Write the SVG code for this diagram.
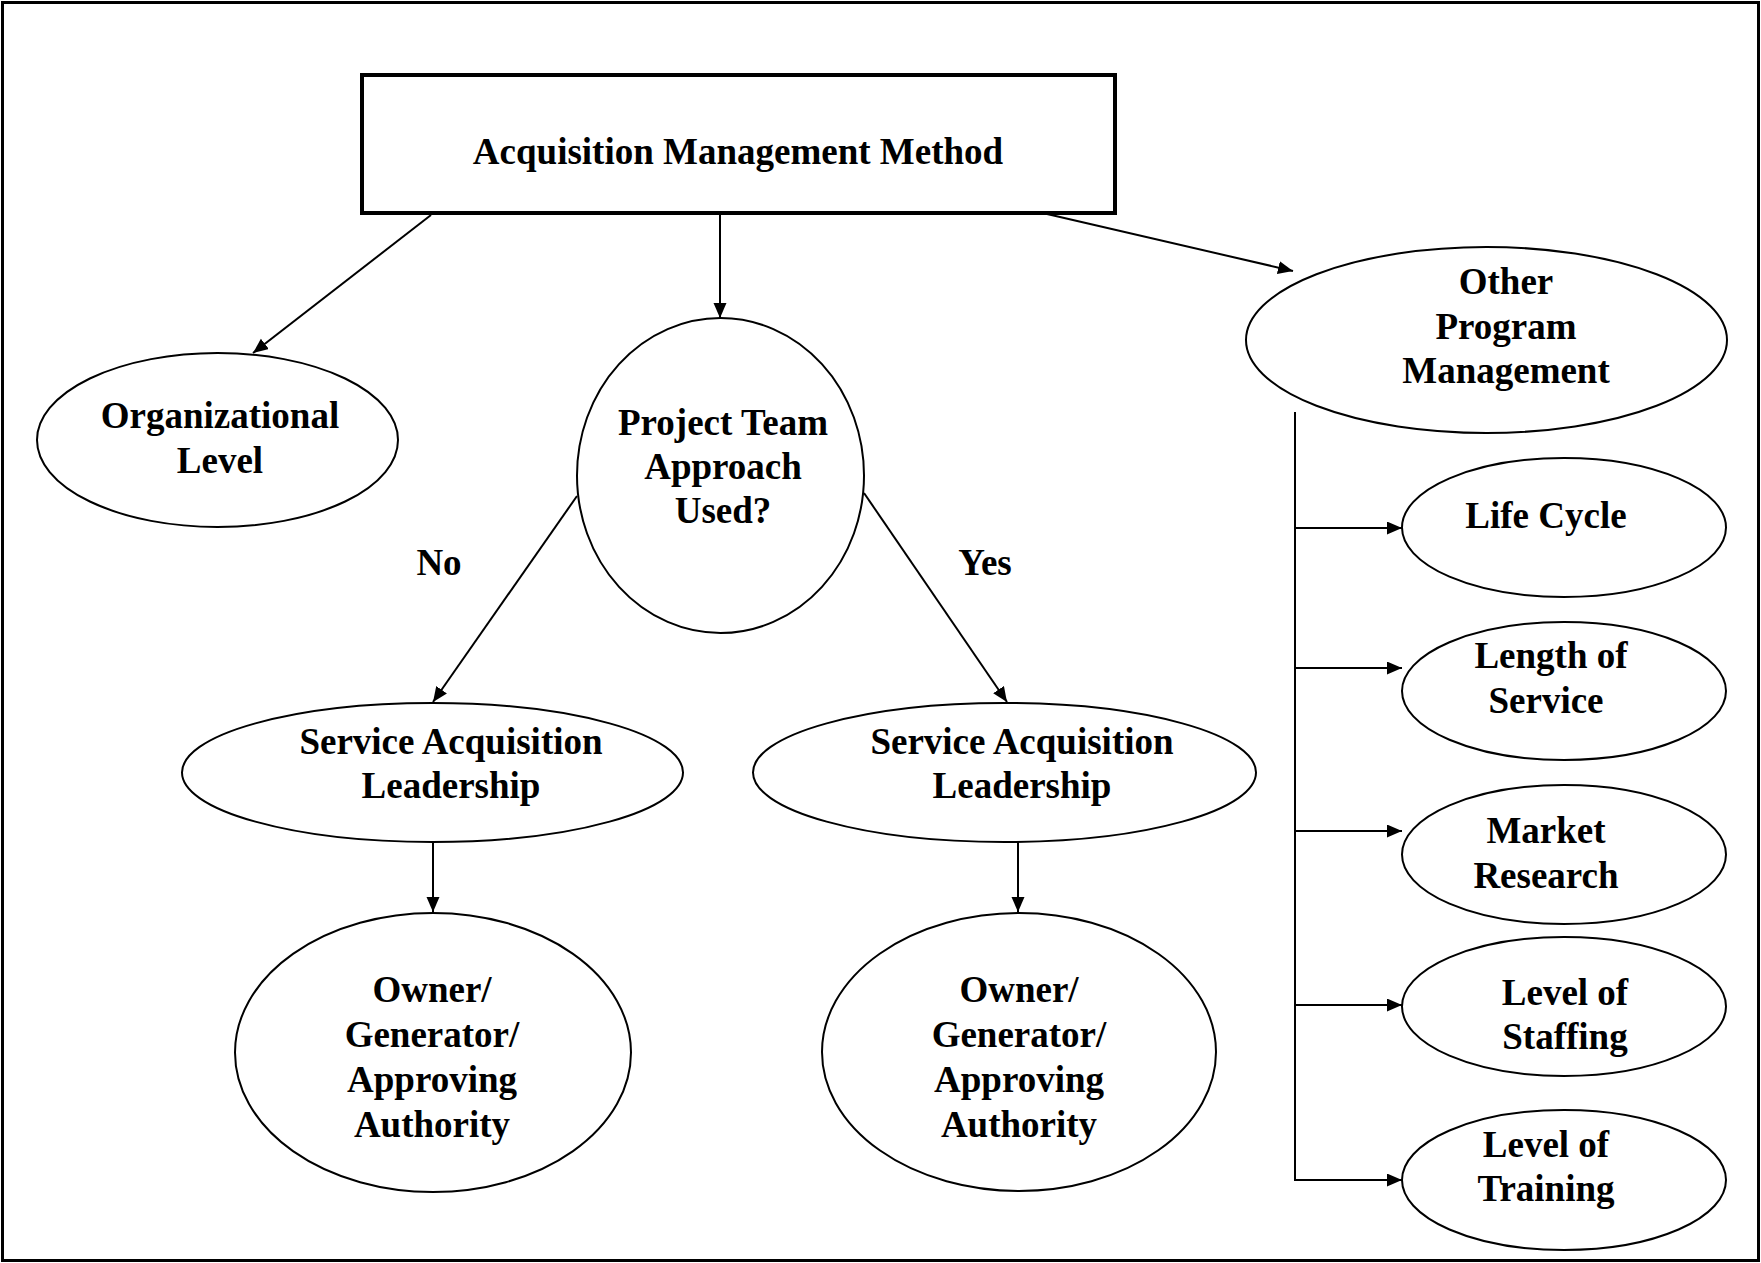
<svg xmlns="http://www.w3.org/2000/svg" width="1761" height="1263" viewBox="0 0 1761 1263">
<style>
.n{fill:#fff;stroke:#000;stroke-width:2}
.t{font-family:"Liberation Serif","Times New Roman",serif;font-weight:bold;font-size:37px;fill:#000;text-anchor:middle}
.c{stroke:#000;stroke-width:2;fill:none}
.a{marker-end:url(#arr)}
</style>
<defs>
<marker id="arr" markerUnits="userSpaceOnUse" markerWidth="16" markerHeight="14" refX="15" refY="6.5" orient="auto">
<path d="M0,0 L15,6.5 L0,13 z" fill="#000"/>
</marker>
</defs>
<rect x="2.5" y="2.5" width="1756" height="1258" fill="#fff" stroke="#000" stroke-width="3"/>
<g id="connectors">
<line class="c a" x1="431" y1="215" x2="253" y2="353"/>
<line class="c a" x1="720" y1="213" x2="720" y2="318"/>
<line class="c a" x1="1047" y1="214" x2="1293" y2="271"/>
<line class="c a" x1="577" y1="496" x2="433" y2="702"/>
<line class="c a" x1="864" y1="493" x2="1007" y2="702"/>
<line class="c a" x1="433" y1="842" x2="433" y2="912"/>
<line class="c a" x1="1018" y1="842" x2="1018" y2="912"/>
<line class="c" x1="1295" y1="412" x2="1295" y2="1181"/>
<line class="c a" x1="1294" y1="528" x2="1402" y2="528"/>
<line class="c a" x1="1294" y1="668" x2="1402" y2="668"/>
<line class="c a" x1="1294" y1="831" x2="1402" y2="831"/>
<line class="c a" x1="1294" y1="1005" x2="1402" y2="1005"/>
<line class="c a" x1="1294" y1="1180" x2="1402" y2="1180"/>
<text class="t" x="439" y="575">No</text>
<text class="t" x="985" y="575">Yes</text>
</g>
<g id="root">
<rect x="362" y="75" width="753" height="138" fill="#fff" stroke="#000" stroke-width="4"/>
<text class="t" x="738" y="164">Acquisition Management Method</text>
</g>
<g id="org-level">
<ellipse class="n" cx="217.5" cy="440" rx="180.5" ry="87"/>
<text class="t" x="220" y="428">Organizational</text>
<text class="t" x="220" y="473">Level</text>
</g>
<g id="project-team">
<ellipse class="n" cx="720.5" cy="475.5" rx="143.5" ry="157.5"/>
<text class="t" x="723" y="435">Project Team</text>
<text class="t" x="723" y="479">Approach</text>
<text class="t" x="723" y="523">Used?</text>
</g>
<g id="other-program">
<ellipse class="n" cx="1486.5" cy="340" rx="240.5" ry="93"/>
<text class="t" x="1506" y="294">Other</text>
<text class="t" x="1506" y="339">Program</text>
<text class="t" x="1506" y="383">Management</text>
</g>
<g id="sal-no">
<ellipse class="n" cx="432.5" cy="772.5" rx="250.5" ry="69.5"/>
<text class="t" x="451" y="754">Service Acquisition</text>
<text class="t" x="451" y="798">Leadership</text>
</g>
<g id="sal-yes">
<ellipse class="n" cx="1004.5" cy="772.5" rx="251.5" ry="69.5"/>
<text class="t" x="1022" y="754">Service Acquisition</text>
<text class="t" x="1022" y="798">Leadership</text>
</g>
<g id="owner-no">
<ellipse class="n" cx="433" cy="1052.5" rx="198" ry="139.5"/>
<text class="t" x="432" y="1002">Owner/</text>
<text class="t" x="432" y="1047">Generator/</text>
<text class="t" x="432" y="1092">Approving</text>
<text class="t" x="432" y="1137">Authority</text>
</g>
<g id="owner-yes">
<ellipse class="n" cx="1019" cy="1052" rx="197" ry="139"/>
<text class="t" x="1019" y="1002">Owner/</text>
<text class="t" x="1019" y="1047">Generator/</text>
<text class="t" x="1019" y="1092">Approving</text>
<text class="t" x="1019" y="1137">Authority</text>
</g>
<g id="life-cycle">
<ellipse class="n" cx="1564" cy="527.5" rx="162" ry="69.5"/>
<text class="t" x="1546" y="528">Life Cycle</text>
</g>
<g id="length-of-service">
<ellipse class="n" cx="1564" cy="691" rx="162" ry="69"/>
<text class="t" x="1551" y="668">Length of</text>
<text class="t" x="1546" y="713">Service</text>
</g>
<g id="market-research">
<ellipse class="n" cx="1564" cy="854.5" rx="162" ry="69.5"/>
<text class="t" x="1546" y="843">Market</text>
<text class="t" x="1546" y="888">Research</text>
</g>
<g id="level-of-staffing">
<ellipse class="n" cx="1564" cy="1006.5" rx="162" ry="69.5"/>
<text class="t" x="1565" y="1005">Level of</text>
<text class="t" x="1565" y="1049">Staffing</text>
</g>
<g id="level-of-training">
<ellipse class="n" cx="1564" cy="1180" rx="162" ry="70"/>
<text class="t" x="1546" y="1157">Level of</text>
<text class="t" x="1546" y="1201">Training</text>
</g>
</svg>
